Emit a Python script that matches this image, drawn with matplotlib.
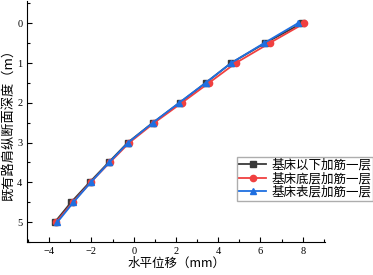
import numpy as np
import matplotlib
matplotlib.use('Agg')
import matplotlib.pyplot as plt
from matplotlib.ticker import MultipleLocator

plt.rcParams['font.family'] = ['Liberation Serif', 'Noto Sans CJK SC']

depth = [0, 0.5, 1, 1.5, 2, 2.5, 3, 3.5, 4, 4.5, 5]
# 水平位移 (mm)
below = [7.96, 6.22, 4.61, 3.41, 2.17, 0.91, -0.28, -1.19, -2.09, -2.96, -3.73]
bottom = [8.08, 6.43, 4.83, 3.56, 2.28, 0.98, -0.20, -1.13, -2.04, -2.88, -3.67]
surface = [7.77, 6.17, 4.61, 3.40, 2.15, 0.91, -0.26, -1.16, -2.03, -2.85, -3.61]
names = ['基床以下加筋一层', '基床底层加筋一层', '基床表层加筋一层']

fig = plt.figure(figsize=(3.73, 2.75), dpi=100)
ax = fig.add_axes([0.073, 0.12, 0.798, 0.875])

ax.plot(below, depth, color='#3a3a3a', marker='s', ms=4, lw=1.3, label=names[0])
ax.plot(bottom, depth, color='#f04040', marker='o', ms=4.5, lw=1.3, label=names[1])
ax.plot(surface, depth, color='#1f6fe0', marker='^', ms=4.5, lw=1.3, label=names[2])

ax.set_xlim(-5.04, 9.05)
ax.set_ylim(5.5, -0.55)
ax.xaxis.set_major_locator(MultipleLocator(2))
ax.xaxis.set_minor_locator(MultipleLocator(1))
ax.yaxis.set_major_locator(MultipleLocator(1))
ax.yaxis.set_minor_locator(MultipleLocator(0.5))
ax.spines['top'].set_visible(False)
ax.spines['right'].set_visible(False)
ax.tick_params(which='both', direction='in', labelsize=7.5, width=0.8)
ax.tick_params(which='major', length=3.5)
ax.tick_params(which='minor', length=2)

ax.set_xlabel('水平位移（mm）', fontsize=9, family=['Noto Sans CJK SC'], labelpad=1)
ax.set_ylabel('既有路肩纵断面深度（m）', fontsize=9.5, family=['Noto Sans CJK SC'], labelpad=2)

ax.legend(loc='upper left', bbox_to_anchor=(0.705, 0.355), prop={'family': 'Noto Sans CJK SC', 'size': 9},
          frameon=True, fancybox=False, edgecolor='#999999', handlelength=2.2,
          borderpad=0.15, labelspacing=0.05, handletextpad=0.4, borderaxespad=0)

fig.savefig('out.png', dpi=100)
